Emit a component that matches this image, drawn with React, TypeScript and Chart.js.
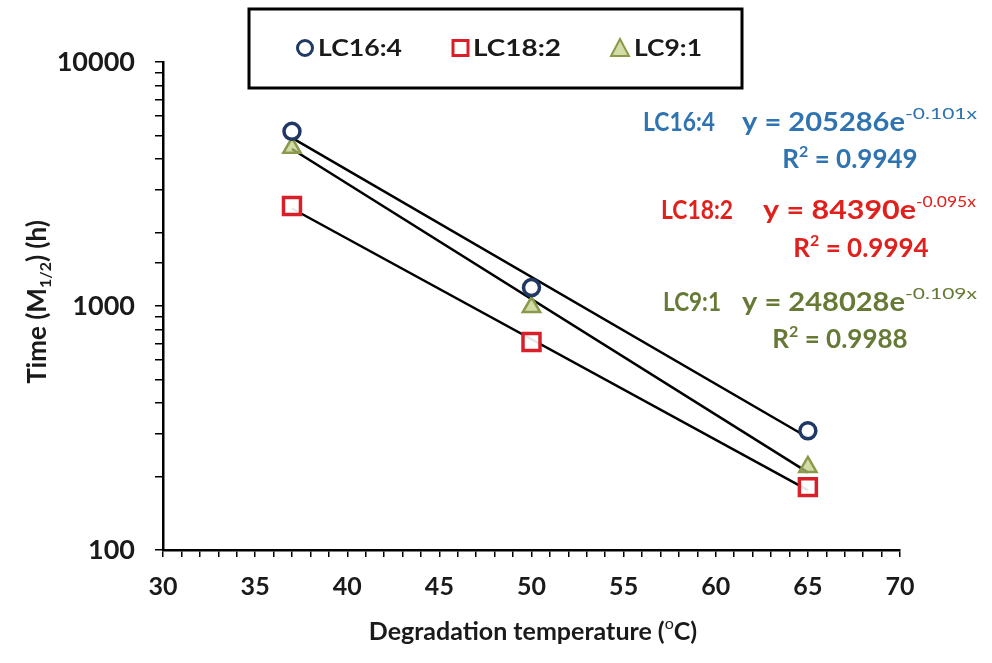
import React, { useEffect, useRef } from "react";
import { Chart, registerables } from "chart.js";
Chart.register(...registerables);

// ---- data ----
const temps = [37, 50, 65];
const lc164 = [5200, 1190, 308];
const lc182 = [2570, 712, 181];
const lc91 = [4450, 990, 219];
const trendX = [37, 65];
const trend164 = [4890, 289];
const trend182 = [2510, 176];
const trend91 = [4400, 208];
const seriesNames = ["LC16:4", "LC18:2", "LC9:1"];
const yTickLabels = [100, 1000, 10000];
const xTickStep = 5;

const NAVY = "#1f3864";
const RED = "#d9202a";
const OLIVE = "#8a9a4a";
const OLIVE_FILL = "rgba(190,205,130,0.7)";
const TXT = "#1a1a1a";
const FONT = "Lato, 'Open Sans', sans-serif";

type Part = { t: string; size: number; weight?: string; dy?: number };

// draws rich text; if width is given the group is horizontally scaled to that width
function drawRich(
  ctx: CanvasRenderingContext2D, parts: Part[], x: number, y: number, color: string,
  align: "left" | "center" = "left", width?: number
) {
  let total = 0;
  const widths = parts.map((p) => {
    ctx.font = `${p.weight || "bold"} ${p.size}px ${FONT}`;
    const w = ctx.measureText(p.t).width;
    total += w;
    return w;
  });
  const sx = width ? width / total : 1;
  const drawn = total * sx;
  const x0 = align === "center" ? x - drawn / 2 : x;
  ctx.save();
  ctx.translate(x0, y);
  ctx.scale(sx, 1);
  ctx.fillStyle = color;
  ctx.textBaseline = "alphabetic";
  ctx.textAlign = "left";
  let cx = 0;
  parts.forEach((p, i) => {
    ctx.font = `${p.weight || "bold"} ${p.size}px ${FONT}`;
    ctx.fillText(p.t, cx, p.dy || 0);
    cx += widths[i];
  });
  ctx.restore();
}

const overlay = {
  id: "overlay",
  afterDraw(chart: any) {
    const ctx: CanvasRenderingContext2D = chart.ctx;
    ctx.save();
    // legend box
    ctx.strokeStyle = "#000";
    ctx.lineWidth = 3;
    ctx.strokeRect(249, 9, 493, 79);
    const ly = 48;
    ctx.lineWidth = 3;
    ctx.strokeStyle = NAVY;
    ctx.beginPath();
    ctx.arc(305, ly, 7.5, 0, Math.PI * 2);
    ctx.stroke();
    ctx.strokeStyle = RED;
    ctx.strokeRect(453, ly - 7.5, 15, 15);
    ctx.strokeStyle = OLIVE;
    ctx.fillStyle = OLIVE_FILL;
    ctx.lineWidth = 2;
    ctx.beginPath();
    ctx.moveTo(620, ly - 9);
    ctx.lineTo(629, ly + 8);
    ctx.lineTo(611, ly + 8);
    ctx.closePath();
    ctx.fill();
    ctx.stroke();
    const legX = [318, 473, 634];
    const legW = [84, 88, 68];
    seriesNames.forEach((n, i) => drawRich(ctx, [{ t: n, size: 23 }], legX[i], ly + 8, TXT, "left", legW[i]));

    // equations
    const BLUE = "#2f74b0";
    const RED2 = "#e0201c";
    const GRN = "#667a36";
    const sup = (t: string) => ({ t, size: 16, weight: "normal", dy: -12 });
    const r2 = (v: string) => [{ t: "R", size: 26 }, { t: "2", size: 16, dy: -11 }, { t: " = " + v, size: 26 }];
    drawRich(ctx, [{ t: "LC16:4", size: 26 }], 643, 131, BLUE, "left", 72);
    drawRich(ctx, [{ t: "y = 205286e", size: 26 }], 742, 131, BLUE, "left", 163);
    drawRich(ctx, [sup("-0.101x")], 905, 131, BLUE, "left", 72);
    drawRich(ctx, r2("0.9949"), 850, 168, BLUE, "center");
    drawRich(ctx, [{ t: "LC18:2", size: 26 }], 661, 219, RED2, "left", 72);
    drawRich(ctx, [{ t: "y = 84390e", size: 26 }], 763, 219, RED2, "left", 153);
    drawRich(ctx, [sup("-0.095x")], 916, 219, RED2, "left", 60);
    drawRich(ctx, r2("0.9994"), 861, 257, RED2, "center");
    drawRich(ctx, [{ t: "LC9:1", size: 26 }], 663, 311, GRN, "left", 58);
    drawRich(ctx, [{ t: "y = 248028e", size: 26 }], 742, 311, GRN, "left", 163);
    drawRich(ctx, [sup("-0.109x")], 905, 311, GRN, "left", 72);
    drawRich(ctx, r2("0.9988"), 840, 348, GRN, "center");

    // x title
    drawRich(ctx, [
      { t: "Degradation temperature (", size: 25 },
      { t: "o", size: 16, weight: "normal", dy: -11 },
      { t: "C)", size: 25 },
    ], 533, 640, TXT, "center");

    // y title
    ctx.translate(46, 302);
    ctx.rotate(-Math.PI / 2);
    drawRich(ctx, [
      { t: "Time (M", size: 26 },
      { t: "1/2", size: 16, weight: "bold", dy: 5 },
      { t: ") (h)", size: 26 },
    ], 0, 0, TXT, "center");
    ctx.restore();
  },
};

export default function App() {
  const ref = useRef<HTMLCanvasElement>(null);
  useEffect(() => {
    const toPts = (xs: number[], ys: number[]) => xs.map((x, i) => ({ x, y: ys[i] }));
    const trendStyle = {
      showLine: true,
      borderColor: "#000",
      borderWidth: 2.5,
      pointRadius: 0,
      fill: false,
      order: 10,
    };
    const chart = new Chart(ref.current!, {
      type: "scatter",
      data: {
        datasets: [
          { label: "t1", data: toPts(trendX, trend164), ...trendStyle },
          { label: "t2", data: toPts(trendX, trend182), ...trendStyle },
          { label: "t3", data: toPts(trendX, trend91), ...trendStyle },
          {
            label: seriesNames[0], data: toPts(temps, lc164), pointStyle: "circle", pointRadius: 8,
            borderColor: NAVY, backgroundColor: "rgba(255,255,255,0.9)", borderWidth: 3.5, order: 0,
          },
          {
            label: seriesNames[2], data: toPts(temps, lc91), pointStyle: "triangle", pointRadius: 10,
            borderColor: OLIVE, backgroundColor: OLIVE_FILL, borderWidth: 2.5, order: 1,
          },
          {
            label: seriesNames[1], data: toPts(temps, lc182), pointStyle: "rect", pointRadius: 12,
            borderColor: RED, backgroundColor: "rgba(255,255,255,0.9)", borderWidth: 3.5, order: 2,
          },
        ],
      },
      options: {
        responsive: false,
        animation: false,
        layout: { padding: { top: 62, right: 92, left: 0, bottom: 0 } },
        plugins: { legend: { display: false }, tooltip: { enabled: false } },
        scales: {
          x: {
            type: "linear",
            min: 30,
            max: 70,
            afterFit: (s: any) => { s.height = 113; },
            border: { color: "#000", width: 2.5 },
            grid: { drawOnChartArea: false, tickLength: 7, color: "#000", lineWidth: 1.5 },
            ticks: {
              stepSize: 1,
              autoSkip: false,
              maxRotation: 0,
              padding: 15,
              color: TXT,
              font: { family: FONT, size: 25, weight: "bold" },
              callback: (v: any) => (Number(v) % xTickStep === 0 ? String(v) : ""),
            },
          },
          y: {
            type: "logarithmic",
            min: 100,
            max: 10000,
            afterFit: (s: any) => { s.width = 163; },
            border: { color: "#000", width: 2.5 },
            grid: { drawOnChartArea: false, tickLength: 8, color: "#000", lineWidth: 1.5 },
            ticks: {
              autoSkip: false,
              padding: 20,
              color: TXT,
              font: { family: FONT, size: 27, weight: "bold" },
              callback: (v: any) => (yTickLabels.includes(Number(v)) ? String(v) : ""),
            },
          },
        },
      },
      plugins: [overlay],
    });
    return () => chart.destroy();
  }, []);
  return (
    <div style={{ position: "fixed", left: 0, top: 0, width: 992, height: 663, background: "#fff" }}>
      <canvas ref={ref} width={992} height={663} style={{ width: 992, height: 663 }} />
    </div>
  );
}
